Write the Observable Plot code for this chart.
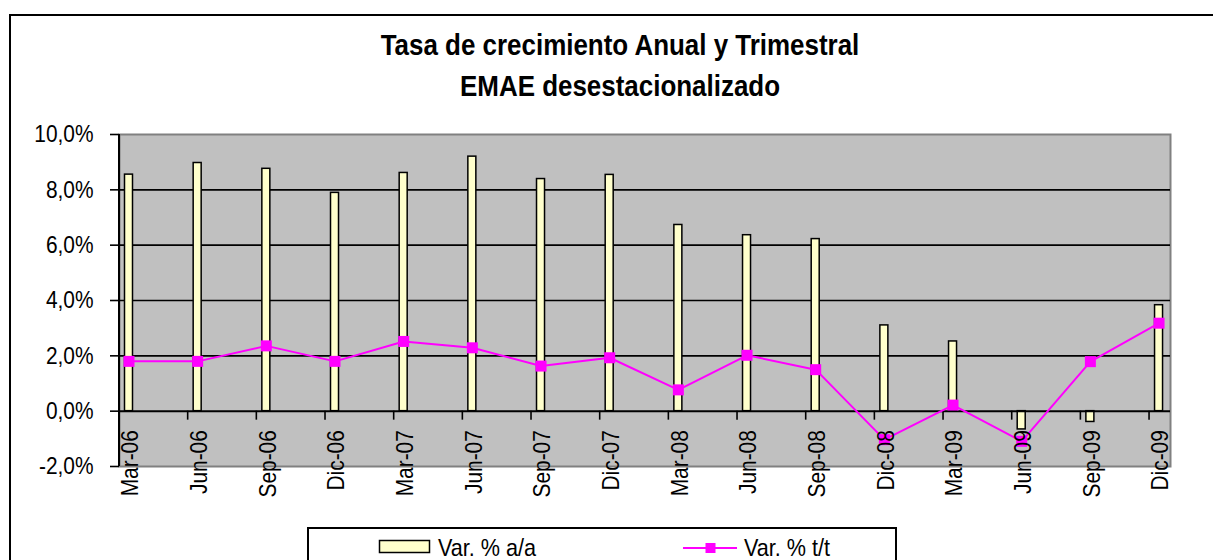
<!DOCTYPE html>
<html>
<head>
<meta charset="utf-8">
<script src="https://cdn.jsdelivr.net/npm/d3@7"></script>
<script src="https://cdn.jsdelivr.net/npm/@observablehq/plot@0.6"></script>
<style>
  html, body { margin: 0; padding: 0; background: #fff; }
  #wrap { position: relative; width: 1213px; height: 560px; overflow: hidden; background: #fff; }
  #chart { position: absolute; left: 0; top: 0; }
  #overlay { position: absolute; left: 0; top: 0; pointer-events: none; }
</style>
</head>
<body>
<div id="wrap">
  <div id="chart"></div>
  <svg id="overlay" width="1213" height="560" font-family="'Liberation Sans', Arial, sans-serif">
    <rect x="10" y="15" width="1400" height="700" fill="none" stroke="#000" stroke-width="2"/>
    <g font-weight="bold" font-size="29.5" text-anchor="middle" fill="#000">
      <text transform="translate(620,55) scale(0.88,1)">Tasa de crecimiento Anual y Trimestral</text>
      <text transform="translate(620,96) scale(0.88,1)">EMAE desestacionalizado</text>
    </g>
    <g id="legend">
      <rect x="308" y="528" width="588" height="80" fill="#fff" stroke="#000" stroke-width="2"/>
      <rect x="379.5" y="540.5" width="50" height="12" fill="#FFFFCC" stroke="#000" stroke-width="1.5"/>
      <text transform="translate(438,556) scale(0.9,1)" font-size="24" fill="#000">Var. % a/a</text>
      <line x1="683" y1="548" x2="737" y2="548" stroke="#FF00FF" stroke-width="2"/>
      <rect x="705.5" y="543" width="10" height="10" fill="#FF00FF"/>
      <text transform="translate(744,556) scale(0.9,1)" font-size="24" fill="#000">Var. % t/t</text>
    </g>
  </svg>
</div>
<script>
// ---- Data ----
const categories = ["Mar-06","Jun-06","Sep-06","Dic-06","Mar-07","Jun-07","Sep-07","Dic-07",
                    "Mar-08","Jun-08","Sep-08","Dic-08","Mar-09","Jun-09","Sep-09","Dic-09"];
// Var. % a/a (bars)
const varAnual = [8.55, 8.97, 8.76, 7.89, 8.61, 9.20, 8.39, 8.54, 6.73, 6.36, 6.22, 3.10, 2.52, -0.66, -0.39, 3.83];
// Var. % t/t (line)
const varTrim = [1.80, 1.80, 2.36, 1.80, 2.52, 2.29, 1.63, 1.93, 0.77, 2.02, 1.50, -1.03, 0.22, -1.09, 1.79, 3.18];
// Axis ticks
const yTicks = [-2, 0, 2, 4, 6, 8, 10];
const gridValues = [2, 4, 6, 8];
const zeroLine = [0];

const rows = categories.map((c, i) => ({cat: c, aa: varAnual[i], tt: varTrim[i]}));
const fmt = d => d.toFixed(1).replace(".", ",") + "%";

const step = 68.67, bw = 8;
const r0 = 124.5;
const pInner = 1 - bw / step;
const r1 = r0 + step * (categories.length - pInner);

const chart = Plot.plot({
  width: 1213,
  height: 560,
  marginLeft: 119,
  marginRight: 43,
  marginTop: 134,
  marginBottom: 94,
  style: {background: "transparent", fontFamily: "'Liberation Sans', Arial, sans-serif", fontSize: "24px", overflow: "visible"},
  x: {type: "band", domain: categories, range: [r0, r1], paddingInner: pInner, paddingOuter: 0, align: 0, round: false, axis: null},
  y: {domain: [-2, 10], axis: null},
  marks: [
    Plot.frame({fill: "#C0C0C0", stroke: "#808080", strokeWidth: 2}),
    Plot.ruleY(gridValues, {stroke: "#000", strokeWidth: 1.6}),
    Plot.barY(rows, {x: "cat", y: "aa", fill: "#FFFFCC", stroke: "#000", strokeWidth: 1.5}),
    Plot.ruleY(zeroLine, {stroke: "#000", strokeWidth: 2}),
    Plot.ruleX(categories, {x: d => d, y1: 0, y2: 0, insetBottom: -9, dx: -10, stroke: "#000", strokeWidth: 1.6}),
    Plot.ruleX(categories.slice(0, 1), {x: d => d, dx: -10, stroke: "#000", strokeWidth: 2}),
    Plot.line(rows, {x: "cat", y: "tt", stroke: "#FF00FF", strokeWidth: 2}),
    Plot.dot(rows, {x: "cat", y: "tt", symbol: "square", r: 6.2, fill: "#FF00FF", stroke: "none"}),
    Plot.text(categories, {x: d => d, y: 0, text: d => d, rotate: -90, textAnchor: "end", dy: 19, dx: 1.5, fontSize: 24, fill: "#000"}),
    Plot.axisY({ticks: yTicks, tickFormat: fmt, tickSize: 9, tickPadding: 17, fontSize: 24, strokeWidth: 1.6, label: null})
  ]
});
// Slightly condensed lettering, as in the original spreadsheet chart
d3.select(chart).selectAll("text").each(function () {
  const t = this.getAttribute("transform") || "";
  this.setAttribute("transform", (t + " scale(0.87,1)").trim());
});
document.getElementById("chart").appendChild(chart);
</script>
</body>
</html>
